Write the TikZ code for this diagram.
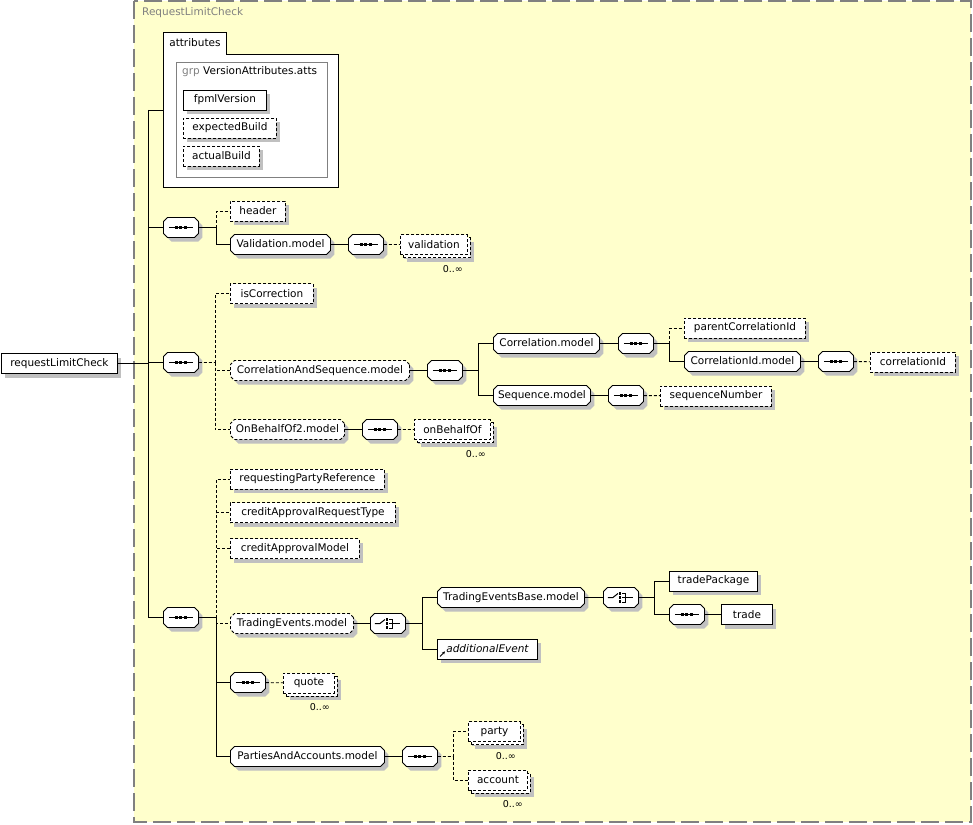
\documentclass[tikz,border=0pt]{standalone}
\usepackage{fontspec}
\setmainfont{DejaVu Sans}
\usetikzlibrary{shapes.misc,shadows,arrows.meta}
\definecolor{schemabg}{HTML}{FFFFCC}
\definecolor{framegray}{HTML}{808080}
\definecolor{shadowgray}{HTML}{C0C0C0}
\tikzset{
  bw/.style={minimum width=#1},
  gw/.code={\pgfmathsetlengthmacro\gwlen{#1-6}\edef\gwtmp{\noexpand\tikzset{text width=\gwlen}}\gwtmp},
  elem/.style={draw=black,fill=white,line width=0.9pt,anchor=west,minimum height=20,
    inner xsep=4pt,inner ysep=0pt,
    general shadow={fill=shadowgray,shadow xshift=4pt,shadow yshift=-4pt}},
  optl/.style={dash pattern=on 3pt off 2pt},
  grpref/.style={elem,chamfered rectangle,chamfered rectangle xsep=2pt,chamfered rectangle ysep=2pt,
    minimum width=0pt,minimum height=0pt,inner xsep=1pt,inner ysep=3pt,
    text height=7.5pt,text depth=2.5pt,align=center},
  mult/.style={elem,optl,general shadow={fill=shadowgray,shadow xshift=7pt,shadow yshift=-7pt},
    general shadow={fill=white,draw=black,line width=0.9pt,dash pattern=on 3pt off 2pt,shadow xshift=3pt,shadow yshift=-3pt}},
  seqbox/.style={grpref,gw=35,
    path picture={\coordinate (pc) at (path picture bounding box.center);
      \draw[black,line width=1pt] (pc) ++(-12pt,0pt) -- ++(24pt,0pt);
      \foreach \d in {-4.5,0,4.5}
        \fill[black] ([xshift=\d pt]pc) +(-1.5pt,-1.5pt) rectangle +(1.5pt,1.5pt);}},
  choicebox/.style={grpref,gw=35,
    path picture={\coordinate (pc) at (path picture bounding box.center);
      \draw[black,line width=1pt] (pc) ++(-13pt,0pt) -- ++(5pt,0pt) -- ++(5pt,4pt);
      \foreach \d in {-4,0,4}
        \fill[black] ([shift={(-1pt,\d pt)}]pc) +(-1.3pt,-1.3pt) rectangle +(1.3pt,1.3pt);
      \draw[black,line width=1pt] (pc) ++(1.5pt,4.5pt) -- ++(3pt,0pt) -- ++(0pt,-9pt) -- ++(-3pt,0pt);
      \draw[black,line width=1pt] (pc) ++(1.5pt,0pt) -- ++(11pt,0pt);}},
  occ/.style={font=\fontsize{9.5}{10}\selectfont},
  conn/.style={line width=0.9pt},
  optconn/.style={conn,dash pattern=on 3pt off 2pt}
}
\begin{document}
\begin{tikzpicture}[x=1pt,y=-1pt,every node/.style={font=\fontsize{10.5}{12}\selectfont}]
\useasboundingbox (0,0) rectangle (973,824);
% frame of the complex type
\draw[fill=schemabg,draw=framegray,line width=1.5pt,dash pattern=on 18pt off 6pt] (134,1) rectangle (971,822);
\node[anchor=west,text=framegray,inner sep=0pt] (frametitle) at (142,13) {RequestLimitCheck};
% root element
\node[elem,bw=116] (root) at (1,363.5) {requestLimitCheck};
% attributes
\node[draw=black,fill=white,line width=0.9pt,anchor=north west,minimum width=175,minimum height=133] (attrbox) at (163,54) {};
\node[draw=black,fill=white,line width=0.9pt,anchor=south west,minimum width=63,minimum height=21,inner sep=0pt] (attrtab) at (attrbox.north west) {attributes};
\draw[white,line width=1.2pt] ([xshift=0.8pt]attrtab.south west) -- ([xshift=-0.8pt]attrtab.south east);
\node[draw=framegray,line width=0.9pt,anchor=north west,minimum width=151,minimum height=115] (grpbox) at (176,62) {};
\node[anchor=west,inner sep=0pt] (grptitle) at (182,72) {\textcolor{framegray}{grp} VersionAttributes.atts};
\node[elem,bw=83] (fpmlVersion) at (183,100) {fpmlVersion};
\node[elem,optl,bw=93] (expectedBuild) at (183,128) {expectedBuild};
\node[elem,optl,bw=76] (actualBuild) at (183,156) {actualBuild};
% first sequence
\node[seqbox] (seqA) at (163,227.5) {};
\node[elem,optl,bw=55] (header) at (230,211) {header};
\node[grpref,gw=100] (validModel) at (230,244.5) {Validation.model};
\node[seqbox] (seqB) at (348,244.5) {};
\node[mult,bw=67] (validation) at (400,244.5) {validation};
\node[occ] (validationOcc) at ([shift={(-15,14)}]validation.south east) {0..∞};
% second sequence
\node[seqbox] (seqC) at (163,362.5) {};
\node[elem,optl,bw=83] (isCorrection) at (230,293.5) {isCorrection};
\node[grpref,optl,gw=179] (casModel) at (230,370.5) {CorrelationAndSequence.model};
\node[seqbox] (seqD) at (427,370.5) {};
\node[grpref,gw=106] (corrModel) at (493,343.5) {Correlation.model};
\node[seqbox] (seqE) at (618,343.5) {};
\node[elem,optl,bw=121] (parentCorrelationId) at (684,328) {parentCorrelationId};
\node[grpref,gw=116] (corrIdModel) at (684,361.5) {CorrelationId.model};
\node[seqbox] (seqF) at (818,361.5) {};
\node[elem,optl,bw=85] (correlationId) at (870,362) {correlationId};
\node[grpref,gw=97] (seqModel) at (493,395.5) {Sequence.model};
\node[seqbox] (seqG) at (608,395.5) {};
\node[elem,optl,bw=111] (sequenceNumber) at (660,396) {sequenceNumber};
\node[grpref,optl,gw=114] (obModel) at (230,429.5) {OnBehalfOf2.model};
\node[seqbox] (seqH) at (362,429.5) {};
\node[mult,bw=76] (onBehalfOf) at (414,429.5) {onBehalfOf};
\node[occ] (onBehalfOfOcc) at ([shift={(-15,14)}]onBehalfOf.south east) {0..∞};
% third sequence
\node[seqbox] (seqI) at (163,617.5) {};
\node[elem,optl,bw=154] (reqParty) at (230,479) {requestingPartyReference};
\node[elem,optl,bw=165] (caRequestType) at (230,512.5) {creditApprovalRequestType};
\node[elem,optl,bw=129] (caModel) at (230,548.5) {creditApprovalModel};
\node[grpref,optl,gw=123] (teModel) at (230,623.5) {TradingEvents.model};
\node[choicebox] (choiceA) at (370,623.5) {};
\node[grpref,gw=147] (tebModel) at (437,597.5) {TradingEventsBase.model};
\node[elem,bw=100] (additionalEvent) at (437,649) {\itshape additionalEvent};
\draw[-{Stealth[length=3pt,width=3pt]},line width=1pt] ([shift={(3,-3)}]additionalEvent.south west) -- ++(5,-5);
\node[choicebox] (choiceB) at (603,597.5) {};
\node[elem,bw=88] (tradePackage) at (669,581) {tradePackage};
\node[seqbox] (seqJ) at (669,614.5) {};
\node[elem,bw=51] (trade) at (721,614.5) {trade};
\node[seqbox] (seqK) at (230,682.5) {};
\node[mult,bw=51] (quote) at (283,683) {quote};
\node[occ] (quoteOcc) at ([shift={(-15,14)}]quote.south east) {0..∞};
\node[grpref,gw=154] (paModel) at (230,756.5) {PartiesAndAccounts.model};
\node[seqbox] (seqL) at (402,756.5) {};
\node[mult,bw=52] (party) at (468,731.5) {party};
\node[occ] (partyOcc) at ([shift={(-15,14)}]party.south east) {0..∞};
\node[mult,bw=59] (account) at (468,780) {account};
\node[occ] (accountOcc) at ([shift={(-15,14)}]account.south east) {0..∞};
% fork points
\coordinate (ta) at (148,110);
\coordinate (tb) at (148,617.5);
\coordinate (fA) at (216,227.5);
\coordinate (fC) at (215,362.5);
\coordinate (fD) at (478,370.5);
\coordinate (fE) at (669,343.5);
\coordinate (fI) at (216,617.5);
\coordinate (fA2) at (422,623.5);
\coordinate (fB) at (654,597.5);
\coordinate (fL) at (453,756.5);
% connectors
\draw[conn] (root) -- (root -| ta);
\draw[conn] (ta) -- (tb);
\draw[conn] (ta) -- (ta -| attrbox.west);
\draw[conn] (seqA) -- (seqA -| ta);
\draw[conn] (seqC) -- (seqC -| ta);
\draw[conn] (seqI) -- (tb);
\draw[conn] (seqA) -- (fA);
\draw[optconn] (fA) |- (header);
\draw[conn] (fA) |- (validModel);
\draw[conn] (validModel) -- (seqB);
\draw[optconn] (seqB) -- (validation);
\draw[optconn] (seqC) -- (fC);
\draw[optconn] (fC) |- (isCorrection);
\draw[optconn] (fC) |- (casModel);
\draw[optconn] (fC) |- (obModel);
\draw[conn] (casModel) -- (seqD);
\draw[conn] (seqD) -- (fD);
\draw[conn] (fD) |- (corrModel);
\draw[conn] (fD) |- (seqModel);
\draw[conn] (corrModel) -- (seqE);
\draw[conn] (seqE) -- (fE);
\draw[optconn] (fE) |- (parentCorrelationId);
\draw[conn] (fE) |- (corrIdModel);
\draw[conn] (corrIdModel) -- (seqF);
\draw[optconn] (seqF) -- (correlationId);
\draw[conn] (seqModel) -- (seqG);
\draw[optconn] (seqG) -- (sequenceNumber);
\draw[conn] (obModel) -- (seqH);
\draw[optconn] (seqH) -- (onBehalfOf);
\draw[conn] (seqI) -- (fI);
\draw[optconn] (fI) |- (reqParty);
\draw[optconn] (fI) |- (caRequestType);
\draw[optconn] (fI) |- (caModel);
\draw[optconn] (fI) |- (teModel);
\draw[conn] (fI) |- (seqK);
\draw[conn] (fI) |- (paModel);
\draw[conn] (teModel) -- (choiceA);
\draw[conn] (choiceA) -- (fA2);
\draw[conn] (fA2) |- (tebModel);
\draw[conn] (fA2) |- (additionalEvent);
\draw[conn] (tebModel) -- (choiceB);
\draw[conn] (choiceB) -- (fB);
\draw[conn] (fB) |- (tradePackage);
\draw[conn] (fB) |- (seqJ);
\draw[conn] (seqJ) -- (trade);
\draw[optconn] (seqK) -- (quote);
\draw[conn] (paModel) -- (seqL);
\draw[optconn] (seqL) -- (fL);
\draw[optconn] (fL) |- (party);
\draw[optconn] (fL) |- (account);
\end{tikzpicture}
\end{document}
